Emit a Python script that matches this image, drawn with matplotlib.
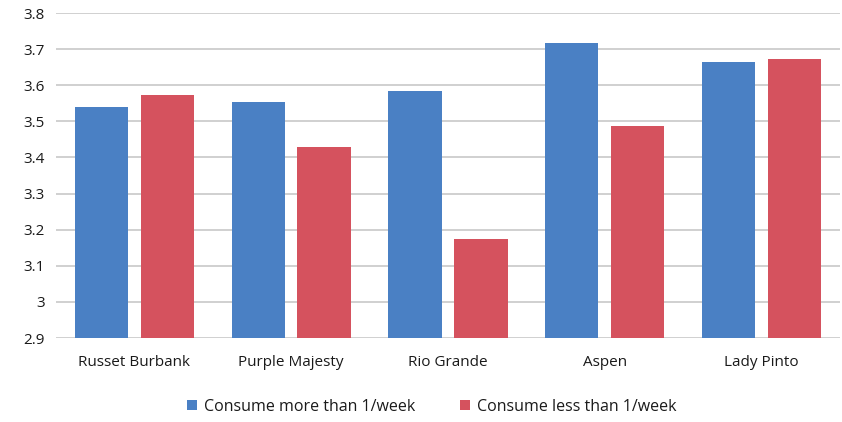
import matplotlib
matplotlib.use("Agg")
import matplotlib.pyplot as plt
import numpy as np

categories = ["Russet Burbank", "Purple Majesty", "Rio Grande", "Aspen", "Lady Pinto"]
more_than = [3.54, 3.553, 3.584, 3.717, 3.664]
less_than = [3.573, 3.429, 3.174, 3.487, 3.672]
series_names = ["Consume more than 1/week", "Consume less than 1/week"]
yticks = [2.9, 3.0, 3.1, 3.2, 3.3, 3.4, 3.5, 3.6, 3.7, 3.8]
ytick_labels = ["2.9", "3", "3.1", "3.2", "3.3", "3.4", "3.5", "3.6", "3.7", "3.8"]

plt.rcParams['font.family'] = ['Open Sans', 'DejaVu Sans']

fig = plt.figure(figsize=(8.42, 4.22), dpi=100)
ax = fig.add_axes([0.0665, 0.199, 0.931, 0.77])

x = np.arange(len(categories))
w = 0.34
blue = "#4A80C4"
red = "#D5525E"
ax.bar(x - 0.21, np.array(more_than) - 2.9, w, bottom=2.9, color=blue, label=series_names[0], zorder=3)
ax.bar(x + 0.21, np.array(less_than) - 2.9, w, bottom=2.9, color=red, label=series_names[1], zorder=3)

ax.set_ylim(2.9, 3.8)
ax.set_xlim(-0.5, len(categories) - 0.5)
ax.set_yticks(yticks)
ax.set_yticklabels(ytick_labels, fontsize=11, color="#1a1a1a")
ax.set_xticks(x)
ax.set_xticklabels(categories, fontsize=11, color="#1a1a1a")
ax.yaxis.grid(True, color="#c8c8c8", linewidth=1.2, zorder=0)
for s in ax.spines.values():
    s.set_visible(False)
ax.tick_params(axis='both', length=0, pad=8)
ax.tick_params(axis='x', pad=12)

leg = fig.legend(loc="center", bbox_to_anchor=(0.513, 0.036), ncol=2, frameon=False,
                 fontsize=11.5, handlelength=0.6, handleheight=0.6, columnspacing=2.8,
                 handletextpad=0.45)
for t in leg.get_texts():
    t.set_color("#1a1a1a")

fig.savefig("out.png", dpi=100)
